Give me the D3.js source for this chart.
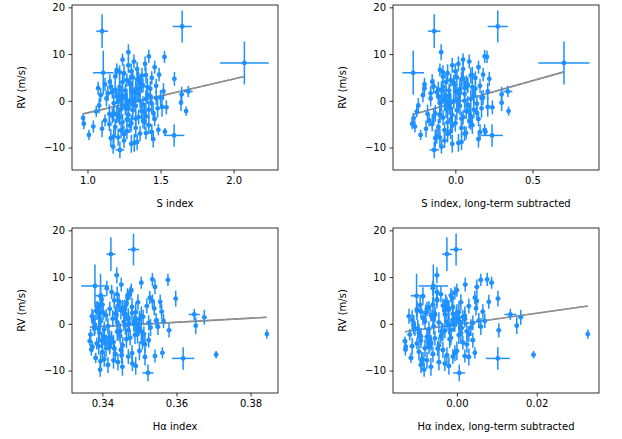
<!DOCTYPE html>
<html><head><meta charset="utf-8">
<script src="https://cdn.jsdelivr.net/npm/d3@7"></script>
<style>body{margin:0;background:#fff}svg{display:block}text{font-family:"DejaVu Sans",sans-serif}</style>
</head><body><svg id="c" width="622" height="439"></svg>
<script>
// ---- data ----
const rv = [
 -3.7,-4.9,-7.3,-5.5,2.7,-1.0,-2.3,1.2,-6.0,-4.2,
 0.5,3.5,-8.0,-9.8,4.1,-2.8,1.8,-0.5,5.2,-3.2,
 8.8,8.4,9.5,7.9,5.4,4.7,9.4,1.4,-0.4,-1.4,
 -6.9,-6.2,-9.2,-8.5,-7.8,6.3,3.0,2.2,-1.8,0.9,
 -4.6,-3.0,2.5,4.4,-5.8,0.0,1.5,-2.0,3.8,-0.8,
 6.8,5.9,-7.0,-4.4,2.9,-1.2,0.3,-3.5,4.9,-9.0,
 1.0,-2.6,3.2,-5.2,7.2,-6.5,0.7,2.0,-1.6,-3.9,
 5.6,-8.8,3.6,-0.2,1.9,-4.8,6.1,-2.2,0.4,-7.6,
 2.4,-5.0,4.0,-1.1,7.6,-3.3,0.8,-6.3,3.3,-0.6,
 1.6,-2.9,5.0,-4.0,2.8,-8.2,0.2,6.6,-1.9,-5.6,
 3.9,-0.3,1.1,-3.6,4.6,-2.4,0.6,-7.1,2.6,-1.3,
 14.9,15.9,8.1,6.0,-7.4,-6.6,-2.2,2.0,-10.5,10.4,
 -1.5,2.1,-3.8,0.6,3.4,-5.3,1.3,-2.7,4.8,-0.9,
 2.3,-4.3,0.1,3.1,-6.7,1.7,-3.1,5.5,-1.7,0.0];
const rvErr = [
 1.0,1.2,1.1,1.3,1.4,1.6,1.2,1.5,1.8,1.3,
 1.7,1.4,1.9,1.5,1.6,2.0,1.3,1.8,1.4,1.6,
 1.3,1.5,1.4,1.6,1.7,1.5,1.3,1.6,1.8,1.5,
 1.4,1.2,1.9,1.6,1.8,1.7,2.1,1.5,1.9,1.6,
 1.8,1.6,1.9,1.4,2.0,1.7,1.5,2.2,1.6,1.8,
 1.5,1.9,1.6,1.8,2.0,1.7,2.2,1.6,1.4,1.9,
 1.8,1.6,1.5,1.9,1.4,1.7,1.6,1.8,2.0,1.5,
 1.4,1.7,1.9,2.1,1.6,1.8,1.5,1.7,1.9,1.6,
 1.7,1.5,1.8,2.0,1.6,1.9,2.1,1.7,1.5,1.8,
 1.6,1.9,1.7,1.5,2.0,1.8,1.6,1.4,1.9,1.7,
 1.5,2.0,1.8,1.6,1.7,1.9,1.5,1.8,1.6,2.1,
 3.6,3.4,4.6,4.7,2.4,0.8,1.0,1.2,1.8,1.7,
 1.6,1.8,1.5,1.9,1.7,1.6,2.0,1.8,1.5,1.7,
 1.9,1.6,1.8,1.5,1.7,2.0,1.6,1.8,1.9,1.7];
const sIndex = [
 0.97,0.975,1.01,1.04,1.073,1.08,1.06,1.09,1.10,1.12,
 1.13,1.12,1.16,1.176,1.153,1.15,1.17,1.18,1.19,1.17,
 1.24,1.318,1.42,1.394,1.373,1.595,1.527,1.645,1.64,1.54,
 1.40,1.485,1.30,1.25,1.21,1.30,1.22,1.26,1.23,1.20,
 1.24,1.28,1.33,1.27,1.33,1.29,1.35,1.31,1.36,1.38,
 1.34,1.25,1.36,1.39,1.41,1.26,1.23,1.35,1.44,1.32,
 1.43,1.45,1.47,1.42,1.46,1.27,1.50,1.52,1.48,1.46,
 1.49,1.34,1.29,1.21,1.31,1.30,1.22,1.37,1.40,1.18,
 1.19,1.15,1.24,1.33,1.28,1.40,1.26,1.23,1.38,1.44,
 1.14,1.20,1.31,1.27,1.36,1.45,1.32,1.20,1.42,1.19,
 1.29,1.27,1.24,1.22,1.34,1.39,1.47,1.25,1.43,1.51,
 1.10,1.648,2.074,1.108,1.593,1.53,1.675,1.69,1.222,1.28,
 1.26,1.30,1.33,1.24,1.37,1.29,1.41,1.18,1.35,1.31,
 1.22,1.38,1.27,1.16,1.44,1.34,1.21,1.40,1.28,1.36];
const sIndexErr = [
 0.012,0.010,0.012,0.011,0.012,0.010,0.013,0.012,0.011,0.012,
 0.012,0.011,0.013,0.012,0.010,0.012,0.011,0.012,0.013,0.011,
 0.012,0.013,0.012,0.011,0.012,0.013,0.012,0.011,0.012,0.013,
 0.012,0.011,0.012,0.013,0.012,0.011,0.012,0.012,0.011,0.013,
 0.012,0.011,0.012,0.013,0.012,0.011,0.012,0.012,0.011,0.013,
 0.012,0.011,0.012,0.013,0.012,0.011,0.012,0.012,0.011,0.013,
 0.012,0.011,0.012,0.013,0.012,0.011,0.012,0.012,0.011,0.013,
 0.012,0.011,0.012,0.013,0.012,0.011,0.012,0.012,0.011,0.013,
 0.012,0.011,0.012,0.013,0.012,0.011,0.012,0.012,0.011,0.013,
 0.012,0.011,0.012,0.013,0.012,0.011,0.012,0.012,0.011,0.013,
 0.012,0.011,0.012,0.013,0.012,0.011,0.012,0.012,0.011,0.013,
 0.040,0.065,0.166,0.070,0.070,0.012,0.012,0.030,0.030,0.012,
 0.012,0.011,0.012,0.013,0.012,0.011,0.012,0.012,0.011,0.013,
 0.012,0.011,0.012,0.013,0.012,0.011,0.012,0.012,0.011,0.013];
const sIndexLT = [
 -0.27,-0.28,-0.225,-0.262,-0.20,-0.24,-0.25,-0.21,-0.19,-0.17,
 -0.16,-0.20,-0.13,-0.09,-0.15,-0.18,-0.12,-0.10,-0.08,-0.14,
 0.05,0.09,0.19,0.02,0.10,0.22,0.205,0.30,0.30,0.24,
 0.07,0.19,-0.02,-0.07,-0.10,0.00,-0.08,-0.04,-0.06,-0.11,
 -0.05,-0.02,0.03,-0.03,0.04,-0.01,0.06,0.01,0.07,0.08,
 0.05,-0.05,0.06,0.10,0.11,-0.04,-0.07,0.05,0.13,0.02,
 0.12,0.14,0.16,0.11,0.15,-0.03,0.18,0.21,0.17,0.15,
 0.18,0.04,-0.01,-0.09,0.01,0.00,-0.08,0.07,0.10,-0.12,
 -0.11,-0.15,-0.06,0.03,-0.02,0.10,-0.04,-0.07,0.08,0.14,
 -0.16,-0.10,0.01,-0.03,0.06,0.15,0.02,-0.10,0.12,-0.11,
 -0.01,-0.03,-0.06,-0.08,0.04,0.09,0.17,-0.05,0.13,0.21,
 -0.137,0.275,0.704,-0.273,0.238,0.195,0.345,0.34,-0.137,-0.092,
 -0.05,0.00,0.04,-0.07,0.08,-0.02,0.12,-0.13,0.05,0.02,
 -0.09,0.09,-0.04,-0.14,0.16,0.03,-0.10,0.11,-0.03,0.06];
const hAlpha = [
 0.3366,0.3373,0.3382,0.3370,0.3388,0.3378,0.3368,0.3392,0.3400,0.3385,
 0.3395,0.3387,0.3395,0.3394,0.3400,0.3405,0.3410,0.3415,0.3398,0.3420,
 0.3505,0.3451,0.3535,0.3542,0.3598,0.3556,0.3577,0.3675,0.3652,0.3580,
 0.3542,0.3562,0.3454,0.3481,0.3430,0.3440,0.3460,0.3435,0.3445,0.3470,
 0.3455,0.3475,0.3490,0.3465,0.3500,0.3485,0.3510,0.3495,0.3520,0.3530,
 0.3425,0.3395,0.3470,0.3515,0.3450,0.3405,0.3440,0.3525,0.3535,0.3490,
 0.3500,0.3448,0.3420,0.3410,0.3478,0.3435,0.3545,0.3460,0.3505,0.3430,
 0.3528,0.3415,0.3480,0.3380,0.3438,0.3390,0.3468,0.3512,0.3458,0.3405,
 0.3402,0.3420,0.3395,0.3390,0.3412,0.3465,0.3375,0.3480,0.3540,0.3550,
 0.3372,0.3418,0.3432,0.3508,0.3383,0.3442,0.3525,0.3475,0.3392,0.3450,
 0.3442,0.3462,0.3428,0.3398,0.3496,0.3488,0.3565,0.3515,0.3560,0.3470,
 0.3423,0.3484,0.3380,0.3395,0.3618,0.3707,0.3844,0.3648,0.3523,0.3439,
 0.3448,0.3462,0.3410,0.3488,0.3455,0.3432,0.3470,0.3402,0.3445,0.3498,
 0.3480,0.3418,0.3472,0.3390,0.3452,0.3505,0.3425,0.3468,0.3440,0.3492];
const hAlphaErr = [
 0.0006,0.0005,0.0006,0.0006,0.0005,0.0006,0.0006,0.0005,0.0006,0.0006,
 0.0005,0.0006,0.0006,0.0005,0.0006,0.0006,0.0005,0.0006,0.0006,0.0005,
 0.0006,0.0006,0.0005,0.0006,0.0006,0.0005,0.0006,0.0006,0.0005,0.0006,
 0.0006,0.0005,0.0006,0.0006,0.0005,0.0006,0.0006,0.0005,0.0006,0.0006,
 0.0005,0.0006,0.0006,0.0005,0.0006,0.0006,0.0005,0.0006,0.0006,0.0005,
 0.0006,0.0006,0.0005,0.0006,0.0006,0.0005,0.0006,0.0006,0.0005,0.0006,
 0.0006,0.0005,0.0006,0.0006,0.0005,0.0006,0.0006,0.0005,0.0006,0.0006,
 0.0005,0.0006,0.0006,0.0005,0.0006,0.0006,0.0005,0.0006,0.0006,0.0005,
 0.0006,0.0006,0.0005,0.0006,0.0006,0.0005,0.0006,0.0006,0.0005,0.0006,
 0.0006,0.0005,0.0006,0.0006,0.0005,0.0006,0.0006,0.0005,0.0006,0.0006,
 0.0005,0.0006,0.0006,0.0005,0.0006,0.0006,0.0005,0.0006,0.0006,0.0005,
 0.0012,0.0015,0.0037,0.0015,0.0030,0.0005,0.0005,0.0015,0.0015,0.0006,
 0.0006,0.0005,0.0006,0.0006,0.0005,0.0006,0.0006,0.0005,0.0006,0.0006,
 0.0005,0.0006,0.0006,0.0005,0.0006,0.0006,0.0005,0.0006,0.0006,0.0005];
const hAlphaLT = [
 -0.0130,-0.0128,-0.0115,-0.0129,-0.0090,-0.0105,-0.0118,-0.0085,-0.0095,-0.0100,
 -0.0080,-0.0070,-0.0088,-0.0082,-0.0060,-0.0075,-0.0065,-0.0058,-0.0050,-0.0068,
 0.0087,0.0021,0.0076,0.0050,0.0103,0.0080,0.0060,0.0160,0.0150,0.0105,
 0.0020,0.0045,-0.0065,-0.0030,-0.0075,-0.0040,-0.0020,-0.0055,-0.0035,-0.0010,
 -0.0045,-0.0015,0.0005,-0.0025,0.0000,-0.0005,0.0015,0.0010,0.0030,0.0035,
 -0.0050,-0.0085,-0.0010,0.0025,-0.0030,-0.0070,-0.0045,0.0040,0.0050,-0.0020,
 0.0020,-0.0040,-0.0075,-0.0080,0.0000,-0.0060,0.0055,-0.0030,0.0025,-0.0065,
 0.0045,-0.0090,-0.0010,-0.0108,-0.0055,-0.0112,-0.0015,0.0030,-0.0025,-0.0085,
 -0.0078,-0.0070,-0.0092,-0.0098,-0.0060,-0.0018,-0.0112,-0.0005,0.0048,0.0060,
 -0.0120,-0.0072,-0.0050,0.0015,-0.0100,-0.0045,0.0040,-0.0005,-0.0095,-0.0035,
 -0.0035,-0.0020,-0.0060,-0.0090,0.0010,0.0005,0.0070,0.0030,0.0065,-0.0015,
 -0.0025,-0.0002,-0.0059,-0.0101,0.01025,0.0192,0.0328,0.0134,0.0006,-0.0050,
 -0.0030,-0.0010,-0.0072,0.0005,-0.0022,-0.0048,-0.0002,-0.0090,-0.0028,0.0012,
 0.0000,-0.0065,-0.0008,-0.0100,-0.0025,0.0020,-0.0055,-0.0012,-0.0038,0.0008];

// linear fits: [intercept, slope]
const fitS = [-9.83, 7.25];
const fitSLT = [-0.36, 9.31];
const fitHa = [-15.515, 44.0];
const fitHaLT = [-0.139, 120.1];

const yTicks = [-10, 0, 10, 20];
const yDomain = [-14.8, 20.5];
const xTicksS = [1.0, 1.5, 2.0];
const xTicksSLT = [0.0, 0.5];
const xTicksHa = [0.34, 0.36, 0.38];
const xTicksHaLT = [0.00, 0.02];
const xDomS = [0.894, 2.304], xDomSLT = [-0.404, 0.931], xDomHa = [0.3318, 0.3874], xDomHaLT = [-0.0160, 0.0356];
const xLabels = ["S index", "S index, long-term subtracted", "Hα index", "Hα index, long-term subtracted"];

// ---- drawing ----
const svg = d3.select("#c");
const blue = "#1e90ff";
const panels = [
  {x: sIndex, xe: sIndexErr, dom: xDomS, ticks: xTicksS, fmt: ".1f", fit: fitS, label: xLabels[0], L: 72, T: 5},
  {x: sIndexLT, xe: sIndexErr, dom: xDomSLT, ticks: xTicksSLT, fmt: ".1f", fit: fitSLT, label: xLabels[1], L: 393, T: 5},
  {x: hAlpha, xe: hAlphaErr, dom: xDomHa, ticks: xTicksHa, fmt: ".2f", fit: fitHa, label: xLabels[2], L: 72, T: 228},
  {x: hAlphaLT, xe: hAlphaErr, dom: xDomHaLT, ticks: xTicksHaLT, fmt: ".2f", fit: fitHaLT, label: xLabels[3], L: 393, T: 228}
];
const W = 206, H = 165;

panels.forEach(p => {
  const g = svg.append("g").attr("transform", `translate(${p.L},${p.T})`);
  const x = d3.scaleLinear().domain(p.dom).range([0, W]);
  const y = d3.scaleLinear().domain(yDomain).range([H, 0]);
  const pts = rv.map((v, i) => ({x: p.x[i], y: v, xe: p.xe[i], ye: rvErr[i]}));

  // fit line behind points
  const ext = d3.extent(p.x);
  g.append("line")
    .attr("x1", x(ext[0])).attr("x2", x(ext[1]))
    .attr("y1", y(p.fit[0] + p.fit[1]*ext[0])).attr("y2", y(p.fit[0] + p.fit[1]*ext[1]))
    .attr("stroke", "#7f7f7f").attr("stroke-width", 1.6);
  g.append("line")
    .attr("x1", x(ext[0])).attr("x2", x(ext[1]))
    .attr("y1", y(p.fit[0] + p.fit[1]*ext[0])).attr("y2", y(p.fit[0] + p.fit[1]*ext[1]))
    .attr("stroke", "#999").attr("stroke-width", 1.2).attr("stroke-dasharray", "5,2");

  const eg = g.append("g").attr("stroke", blue).attr("stroke-width", 1.5);
  eg.selectAll(".v").data(pts).join("line")
    .attr("x1", d => x(d.x)).attr("x2", d => x(d.x))
    .attr("y1", d => y(d.y - d.ye)).attr("y2", d => y(d.y + d.ye));
  eg.selectAll(".h").data(pts).join("line")
    .attr("x1", d => x(d.x - d.xe)).attr("x2", d => x(d.x + d.xe))
    .attr("y1", d => y(d.y)).attr("y2", d => y(d.y));
  g.append("g").selectAll("circle").data(pts).join("circle")
    .attr("cx", d => x(d.x)).attr("cy", d => y(d.y)).attr("r", 2.4).attr("fill", blue);

  // frame
  g.append("rect").attr("width", W).attr("height", H).attr("fill", "none").attr("stroke", "#000").attr("stroke-width", 0.8);

  const xa = g.append("g").attr("transform", `translate(0,${H})`)
    .call(d3.axisBottom(x).tickValues(p.ticks).tickFormat(d3.format(p.fmt)).tickSize(3.5).tickPadding(3.5));
  const ya = g.append("g")
    .call(d3.axisLeft(y).tickValues(yTicks).tickFormat(d3.format("d")).tickSize(3.5).tickPadding(3.5));
  [xa, ya].forEach(a => {
    a.select(".domain").remove();
    a.selectAll("line").attr("stroke", "#000").attr("stroke-width", 0.8);
    a.selectAll("text").attr("font-size", 10).attr("font-family", "DejaVu Sans").attr("fill", "#000");
  });

  g.append("text").attr("x", W/2).attr("y", H + 37).attr("text-anchor", "middle")
    .attr("font-size", 10).text(p.label);
  g.append("text").attr("transform", `translate(${-51},${H/2}) rotate(-90)`).attr("text-anchor", "middle")
    .attr("dy", "0.35em").attr("font-size", 10).text("RV (m/s)");
});
</script></body></html>
